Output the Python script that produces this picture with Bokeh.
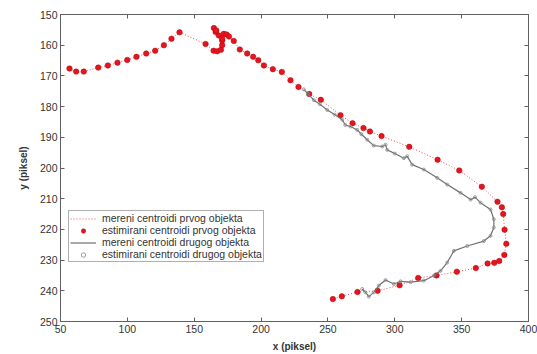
from bokeh.plotting import figure
from bokeh.models import Range1d, LinearAxis, FixedTicker, Legend, LegendItem, CustomLabelingPolicy
from bokeh.embed import file_html
from bokeh.resources import INLINE

# first object (red): measured path and estimated centroids
red_x = [56.7, 61.7, 67.4, 78.2, 85.4, 92.6, 99.9, 106.8, 114.1, 120.8, 127.3, 133.0, 139.0,
         158.5, 164.5, 167.2, 170.0, 170.9, 170.9, 168.4, 166.0, 164.7, 166.5, 170.9, 172.1,
         174.2, 176.0, 179.6, 184.1, 189.6, 194.1, 197.9, 202.1, 208.8, 215.5, 222.0, 228.0,
         236.0, 244.7, 259.4, 268.4, 276.6, 281.4, 290.1, 310.8, 332.0, 348.2, 365.1, 376.8,
         380.1, 381.1, 382.1, 383.4, 381.9, 378.1, 374.4, 369.4, 360.6, 346.4, 331.2, 317.5,
         303.6, 287.1, 272.1, 260.4, 253.7]
red_y = [167.6, 168.6, 168.6, 167.3, 166.6, 165.7, 164.8, 163.8, 162.7, 161.8, 160.0, 157.9, 155.8,
         159.6, 161.8, 162.0, 161.5, 160.0, 158.5, 156.8, 155.7, 154.4, 155.2, 157.9, 156.3,
         156.5, 157.2, 158.6, 161.4, 162.7, 163.8, 164.9, 166.6, 167.8, 168.7, 171.4, 173.6,
         175.9, 177.8, 182.8, 185.4, 187.0, 188.1, 189.6, 193.1, 197.3, 200.8, 206.1, 211.0,
         212.8, 215.0, 220.1, 224.7, 228.3, 230.3, 230.9, 231.1, 232.6, 233.8, 235.0, 235.8,
         238.2, 240.0, 240.4, 241.8, 242.7]

# second object (gray): measured path and estimated centroids
gray_x = [232.0, 235.0, 239.5, 244.0, 249.5, 255.0, 260.7, 263.0, 266.9, 271.9, 275.0, 279.4,
          284.3, 290.6, 293.1, 294.3, 300.0, 306.8, 309.3, 313.0, 321.7, 331.7, 339.2, 349.2,
          356.7, 360.0, 364.1, 371.6, 374.1, 374.1, 371.6, 366.6, 354.2, 344.2, 339.2, 334.2,
          329.2, 321.7, 311.8, 304.3, 299.3, 293.1, 288.1, 284.3, 280.6, 278.1, 275.6]
gray_y = [174.4, 175.8, 177.9, 179.2, 181.1, 182.6, 184.3, 186.0, 186.5, 187.6, 189.0, 190.8,
          192.7, 193.0, 192.4, 194.1, 195.3, 196.8, 196.2, 198.9, 200.5, 203.2, 205.4, 208.1,
          210.3, 209.5, 211.3, 213.5, 216.7, 219.4, 222.1, 223.8, 225.4, 227.0, 230.8, 233.5,
          235.1, 236.7, 237.2, 236.9, 237.8, 236.5, 238.3, 240.5, 241.9, 240.5, 239.4]

x_ticks = [50, 100, 150, 200, 250, 300, 350, 400]
y_ticks = [150, 160, 170, 180, 190, 200, 210, 220, 230, 240, 250]

labels = ["mereni centroidi prvog objekta", "estimirani centroidi prvog objekta",
          "mereni centroidi drugog objekta", "estimirani centroidi drugog objekta"]

FONT = "Liberation Sans"
AX = "#606060"
TXT = "#333333"

p = figure(width=537, height=354, output_backend="svg", toolbar_location=None,
           x_range=Range1d(50, 400), y_range=Range1d(250, 150),
           min_border_left=60, min_border_right=9, min_border_top=14, min_border_bottom=31)
p.outline_line_color = AX
p.grid.visible = False
p.background_fill_color = "white"
p.border_fill_color = "white"

for ax, ticks in ((p.xaxis[0], x_ticks), (p.yaxis[0], y_ticks)):
    ax.ticker = FixedTicker(ticks=ticks)
    ax.major_tick_in = 4
    ax.major_tick_out = 0
    ax.minor_tick_line_color = None
    ax.axis_line_color = AX
    ax.major_tick_line_color = AX
    ax.major_label_text_font = FONT
    ax.major_label_text_font_size = "10.5px"
    ax.major_label_text_color = TXT
    ax.axis_label_text_font = FONT
    ax.axis_label_text_font_size = "10px"
    ax.axis_label_text_font_style = "bold"
    ax.axis_label_text_color = TXT

p.xaxis[0].axis_label = "x (piksel)"
p.yaxis[0].axis_label = "y (piksel)"
p.xaxis[0].major_label_standoff = 3
p.yaxis[0].major_label_standoff = 3
p.xaxis[0].axis_label_standoff = 5
p.yaxis[0].axis_label_standoff = 8

for loc, ticks in (("above", x_ticks), ("right", y_ticks)):
    a = LinearAxis(ticker=FixedTicker(ticks=ticks), major_tick_in=4, major_tick_out=0,
                   minor_tick_line_color=None, major_label_text_font_size="0px",
                   major_label_policy=CustomLabelingPolicy(code="return []"),
                   major_label_standoff=0, axis_line_color=AX, major_tick_line_color=AX)
    p.add_layout(a, loc)

r1 = p.line(red_x, red_y, line_color="#e05050", line_width=1, line_dash="1 2")
r2 = p.scatter(red_x, red_y, size=5.5, fill_color="#e8141c", line_color="#b00010", line_width=0.5)
r3 = p.line(gray_x, gray_y, line_color="#707070", line_width=1.2)
r4 = p.scatter(gray_x, gray_y, size=3, fill_color=None, line_color="#888888", line_width=0.8)

legend = Legend(items=[LegendItem(label=labels[0], renderers=[r1]),
                       LegendItem(label=labels[1], renderers=[r2]),
                       LegendItem(label=labels[2], renderers=[r3]),
                       LegendItem(label=labels[3], renderers=[r4])],
                location=(8, 59), label_text_font=FONT, label_text_font_size="10.5px",
                label_text_line_height=1.0,
                label_text_color=TXT, label_height=11, glyph_height=11, glyph_width=26,
                spacing=0, padding=1, margin=0, label_standoff=6,
                border_line_color=AX, background_fill_alpha=1)
p.add_layout(legend, "center")

open("out.html", "w").write(file_html(p, INLINE))
